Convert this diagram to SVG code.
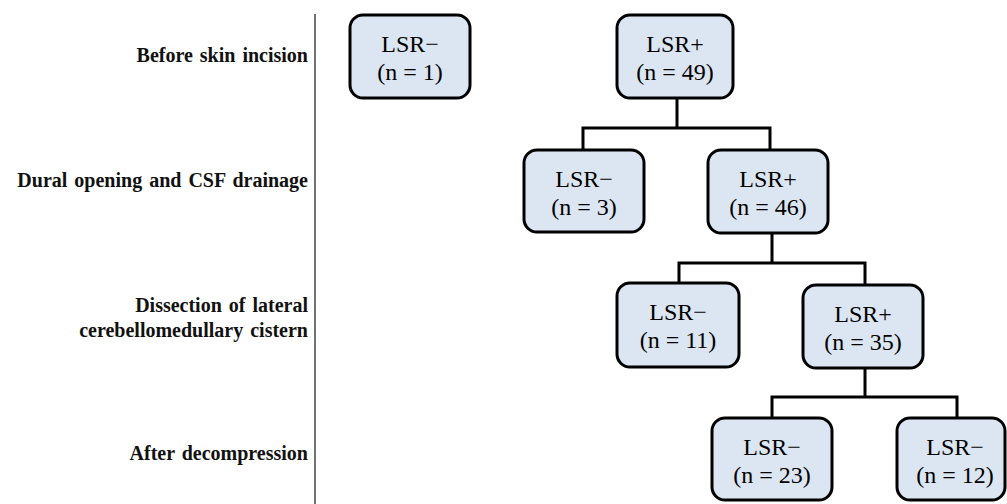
<svg xmlns="http://www.w3.org/2000/svg" width="1007" height="504" viewBox="0 0 1007 504">
<style>
.box{fill:#dce6f2;stroke:#000;stroke-width:3}
.lb{font-size:20px;font-weight:bold;text-anchor:end;fill:#111;word-spacing:2px}
.cn{fill:none;stroke:#000;stroke-width:3}
</style>
<rect width="1007" height="504" fill="#fff"/>
<line x1="315" y1="14" x2="315" y2="504" stroke="#444" stroke-width="1.5"/>
<g id="labels" font-family="Liberation Serif, serif">
<text class="lb" x="308" y="62">Before skin incision</text>
<text class="lb" x="308" y="187">Dural opening and CSF drainage</text>
<text class="lb" x="308" y="312">Dissection of lateral</text>
<text class="lb" x="308" y="337">cerebellomedullary cistern</text>
<text class="lb" x="308" y="460">After decompression</text>
</g>
<g id="connectors">
<path class="cn" d="M677 98 V128 M583 150 V128 H770 V150"/>
<path class="cn" d="M772 233 V263 M679 283 V263 H865 V285"/>
<path class="cn" d="M865 368 V397 M772 418 V397 H957 V418"/>
</g>
<g id="n1"><rect class="box" x="350" y="15" width="120" height="83" rx="13"/><text font-family="Times New Roman" font-size="24" text-anchor="middle" x="410" y="52">LSR−</text><text font-family="Times New Roman" font-size="24" text-anchor="middle" x="410" y="80">(n = 1)</text></g>
<g id="n2"><rect class="box" x="617" y="15" width="116" height="83" rx="13"/><text font-family="Times New Roman" font-size="24" text-anchor="middle" x="675" y="52">LSR+</text><text font-family="Times New Roman" font-size="24" text-anchor="middle" x="675" y="80">(n = 49)</text></g>
<g id="n3"><rect class="box" x="524" y="150" width="120" height="82" rx="13"/><text font-family="Times New Roman" font-size="24" text-anchor="middle" x="584" y="187">LSR−</text><text font-family="Times New Roman" font-size="24" text-anchor="middle" x="584" y="215">(n = 3)</text></g>
<g id="n4"><rect class="box" x="708" y="150" width="120" height="83" rx="13"/><text font-family="Times New Roman" font-size="24" text-anchor="middle" x="768" y="187">LSR+</text><text font-family="Times New Roman" font-size="24" text-anchor="middle" x="768" y="215">(n = 46)</text></g>
<g id="n5"><rect class="box" x="617" y="283" width="122" height="84" rx="13"/><text font-family="Times New Roman" font-size="24" text-anchor="middle" x="678" y="320">LSR−</text><text font-family="Times New Roman" font-size="24" text-anchor="middle" x="678" y="348">(n = 11)</text></g>
<g id="n6"><rect class="box" x="803" y="285" width="120" height="83" rx="13"/><text font-family="Times New Roman" font-size="24" text-anchor="middle" x="863" y="322">LSR+</text><text font-family="Times New Roman" font-size="24" text-anchor="middle" x="863" y="350">(n = 35)</text></g>
<g id="n7"><rect class="box" x="712" y="418" width="120" height="82" rx="13"/><text font-family="Times New Roman" font-size="24" text-anchor="middle" x="772" y="455">LSR−</text><text font-family="Times New Roman" font-size="24" text-anchor="middle" x="772" y="483">(n = 23)</text></g>
<g id="n8"><rect class="box" x="897" y="418" width="108" height="82" rx="13"/><text font-family="Times New Roman" font-size="24" text-anchor="middle" x="955" y="455">LSR−</text><text font-family="Times New Roman" font-size="24" text-anchor="middle" x="955" y="483">(n = 12)</text></g>
</svg>
